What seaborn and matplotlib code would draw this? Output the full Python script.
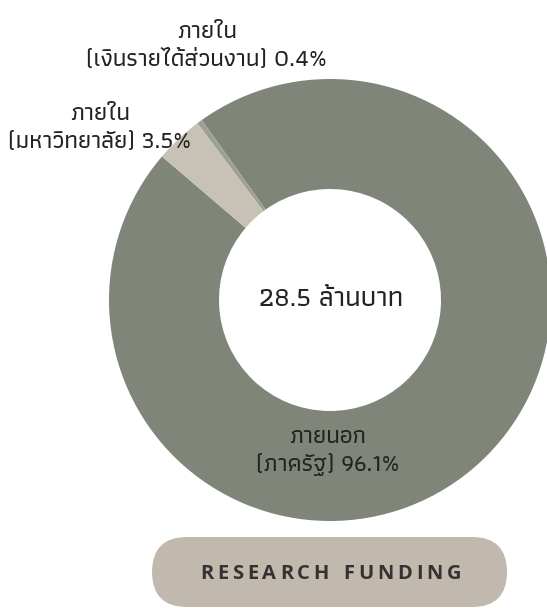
import matplotlib
matplotlib.use("Agg")
import matplotlib.pyplot as plt
import seaborn as sns
from matplotlib.patches import FancyBboxPatch

labels = ["ภายนอก\n(ภาครัฐ) 96.1%", "ภายใน\n(เงินรายได้ส่วนงาน) 0.4%", "ภายใน\n(มหาวิทยาลัย) 3.5%"]
values = [96.1, 0.4, 3.5]
colors = ["#7f8579", "#9da094", "#c7c1b6"]
center_text = "28.5 ล้านบาท"
button_text = "RESEARCH FUNDING"

sns.set_theme(style="white")
plt.rcParams["font.family"] = ["Athiti", "DejaVu Sans"]

fig = plt.figure(figsize=(5.47, 6.08), dpi=100)
ax = fig.add_axes([0, 0, 1, 1])

ax.pie(values, colors=colors, startangle=139.5, counterclock=True,
       center=(330, 308), radius=221, wedgeprops=dict(width=110, linewidth=0),
       frame=True)
ax.set_xlim(0, 547)
ax.set_ylim(0, 608)
ax.set_aspect("equal")
ax.axis("off")

tc = "#222222"
fw = "medium"
ax.text(331, 608 - 300, center_text, ha="center", va="center", fontsize=20, color=tc, fontweight=fw)
ax.text(328, 608 - 451, labels[0], ha="center", va="center", fontsize=17.5, color=tc,
        linespacing=1.3, fontweight=fw)
ax.text(207, 608 - 46, labels[1], ha="center", va="center", fontsize=17.5, color=tc,
        linespacing=1.3, fontweight=fw)
ax.text(100, 608 - 128, labels[2], ha="center", va="center", fontsize=17.5, color=tc,
        linespacing=1.3, fontweight=fw)

# pill button
pill = FancyBboxPatch((152, 608 - 607), 355, 70,
                      boxstyle="round,pad=0,rounding_size=35",
                      fc="#c2b9ae", ec="none")
ax.add_patch(pill)

# letter-spaced button caption
fig.canvas.draw()
r = fig.canvas.get_renderer()
bfs = 14.5
bfam = ["Open Sans", "DejaVu Sans"]
widths = []
for ch in button_text:
    t = ax.text(0, 0, ch if ch != " " else "n", fontsize=bfs, fontweight="bold", family=bfam)
    w = t.get_window_extent(renderer=r).width
    widths.append(w if ch != " " else w * 0.5)
    t.remove()
target = 261.0
track = (target - sum(widths)) / (len(button_text) - 1)
x = 200.0
for ch, w in zip(button_text, widths):
    if ch != " ":
        ax.text(x, 608 - 574, ch, ha="left", va="center", fontsize=bfs, fontweight="bold",
                color="#333333", family=bfam)
    x += w + track

fig.savefig("out.png", dpi=100)
